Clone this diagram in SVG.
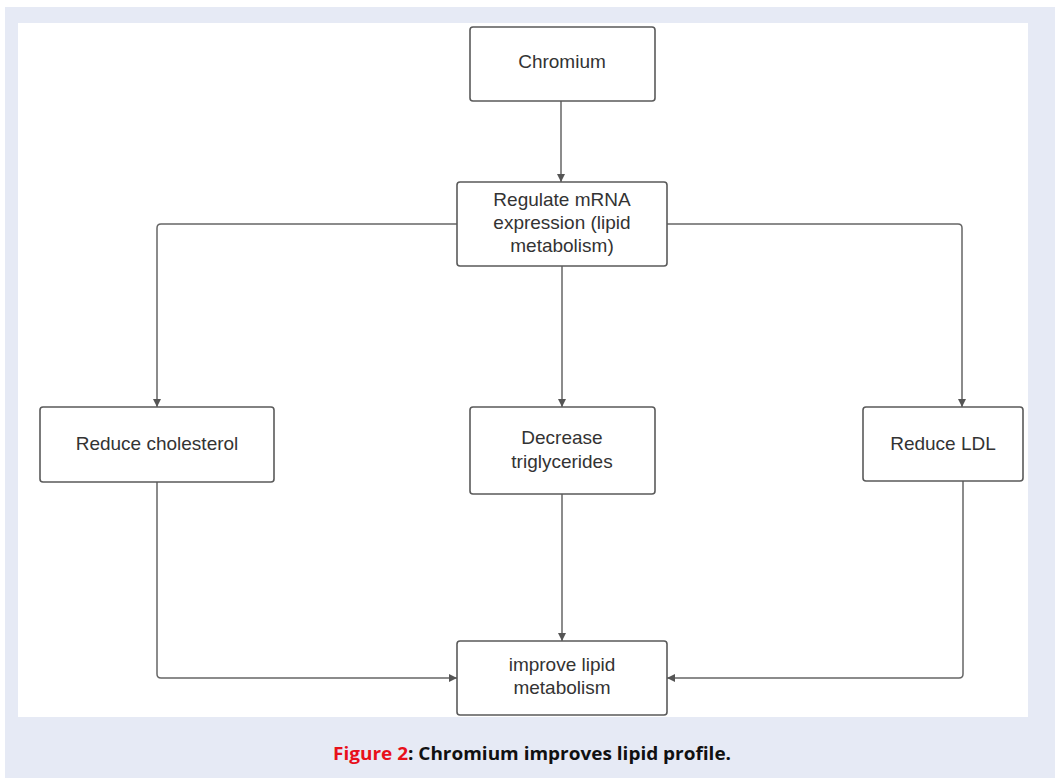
<svg xmlns="http://www.w3.org/2000/svg" width="1055" height="778" viewBox="0 0 1055 778">
<defs>
<marker id="arr" viewBox="0 0 10 10" refX="10" refY="5" markerWidth="8" markerHeight="8" markerUnits="userSpaceOnUse" orient="auto">
<path d="M0,0 L10,5 L0,10 z" fill="#555"/>
</marker>
<style>
.box{fill:#fff;stroke:#5a5a5a;stroke-width:1.6}
.t{font-family:"Liberation Sans",Arial,sans-serif;font-size:19px;fill:#333;text-anchor:middle}
.c{fill:none;stroke:#666;stroke-width:1.5;marker-end:url(#arr)}
</style>
</defs>
<rect x="0" y="0" width="1055" height="778" fill="#fff"/>
<rect x="5" y="7" width="1050" height="771" fill="#e6eaf5"/>
<rect x="18" y="23" width="1010" height="694" fill="#fff"/>
<g id="connectors">
<path class="c" d="M561,101 V182"/>
<path class="c" d="M457,224 H161 Q157,224 157,228 V407"/>
<path class="c" d="M667,224 H958 Q962,224 962,228 V407"/>
<path class="c" d="M562,266 V407"/>
<path class="c" d="M562,494 V641"/>
<path class="c" d="M157,482 V674 Q157,678 161,678 H457"/>
<path class="c" d="M963,481 V674 Q963,678 959,678 H667"/>
</g>
<g id="chromium"><rect class="box" x="470" y="27" width="185" height="74" rx="3"/><text class="t" x="562" y="68">Chromium</text></g>
<g id="regulate"><rect class="box" x="457" y="182" width="210" height="84" rx="3"/><text class="t" x="562" y="206">Regulate mRNA</text><text class="t" x="562" y="229">expression (lipid</text><text class="t" x="562" y="252">metabolism)</text></g>
<g id="cholesterol"><rect class="box" x="40" y="407" width="234" height="75" rx="3"/><text class="t" x="157" y="450">Reduce cholesterol</text></g>
<g id="triglycerides"><rect class="box" x="470" y="407" width="185" height="87" rx="3"/><text class="t" x="562" y="444">Decrease</text><text class="t" x="562" y="468">triglycerides</text></g>
<g id="ldl"><rect class="box" x="863" y="407" width="160" height="74" rx="3"/><text class="t" x="943" y="450">Reduce LDL</text></g>
<g id="improve"><rect class="box" x="457" y="641" width="210" height="74" rx="3"/><text class="t" x="562" y="671">improve lipid</text><text class="t" x="562" y="694">metabolism</text></g>
<text x="333" y="760" font-family="'Open Sans',Lato,sans-serif" font-weight="bold" font-size="18" textLength="398" lengthAdjust="spacingAndGlyphs"><tspan fill="#e8101a">Figure 2</tspan><tspan fill="#111">: Chromium improves lipid profile.</tspan></text>
</svg>
